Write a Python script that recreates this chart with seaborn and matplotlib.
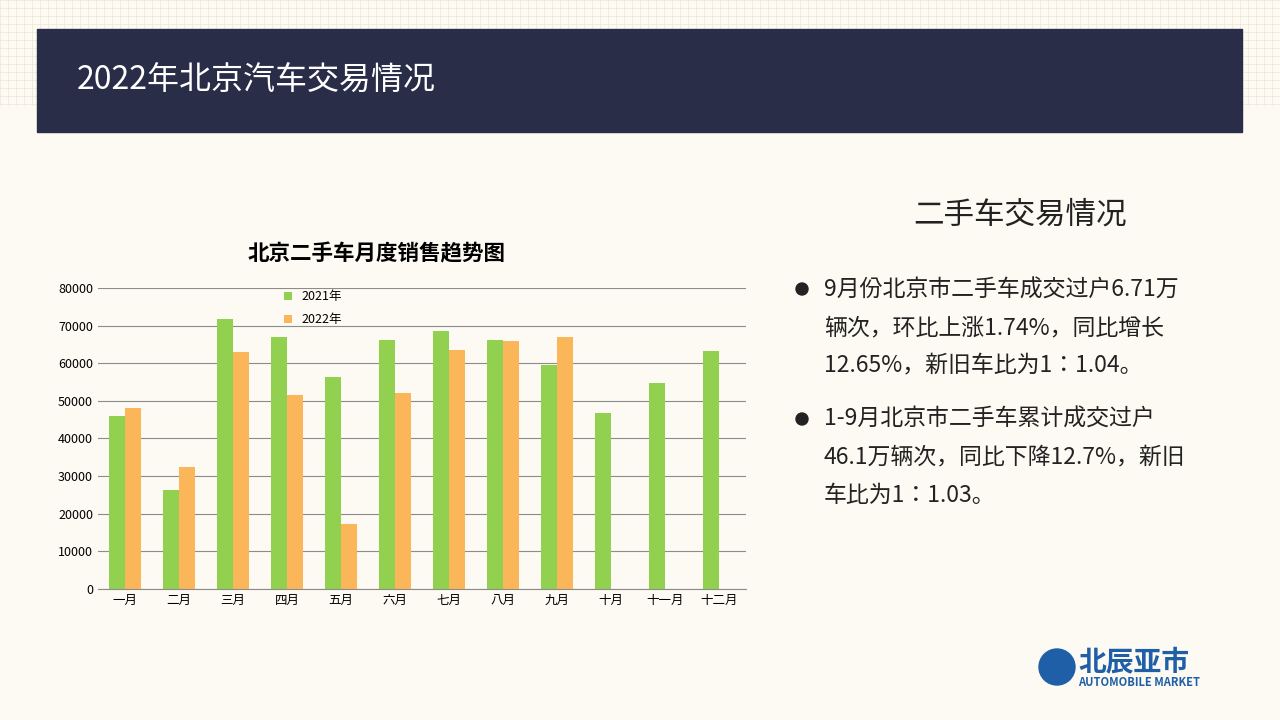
import matplotlib.pyplot as plt
import seaborn as sns
import pandas as pd
from matplotlib.patches import Rectangle, Circle

plt.rcParams['font.family'] = ['Noto Sans CJK JP', 'Noto Sans CJK SC', 'Noto Sans CJK TC',
                               'Noto Sans CJK KR', 'DejaVu Sans']

months = ['一月', '二月', '三月', '四月', '五月', '六月', '七月', '八月', '九月', '十月', '十一月', '十二月']
sales_2021 = [46000, 26300, 71800, 67000, 56400, 66200, 68600, 66200, 59600, 46800, 54800, 63300]
sales_2022 = [48100, 32400, 63000, 51600, 17300, 52100, 63600, 66000, 67000, None, None, None]
years = ['2021年', '2022年']

df = pd.DataFrame({'month': months * 2,
                   'sales': sales_2021 + sales_2022,
                   'year': [years[0]] * 12 + [years[1]] * 12})

bg = '#fcfaf2'
fig = plt.figure(figsize=(12.8, 7.2), dpi=100, facecolor=bg)

# faint grid pattern in top corners
deco = fig.add_axes([0, 0, 1, 1], zorder=0)
deco.set_xlim(0, 1280)
deco.set_ylim(720, 0)
deco.axis('off')
for x in range(0, 1281, 8):
    deco.plot([x, x], [0, 105], color='#ece8d8', lw=0.5)
for y in range(0, 106, 8):
    deco.plot([0, 1280], [y, y], color='#ece8d8', lw=0.5)
deco.add_patch(Rectangle((0, 105), 1280, 615, color=bg, zorder=1))
deco.add_patch(Rectangle((37, 29), 1205, 103, color='#292d48', zorder=2))
deco.text(77, 81, '2022年北京汽车交易情况', color='white', fontsize=23, va='center', zorder=3)
deco.text(1020, 215, '二手车交易情况', fontsize=22, ha='center', va='center', color='#222222')
lines1 = ['9月份北京市二手车成交过户6.71万', '辆次，环比上涨1.74%，同比增长', '12.65%，新旧车比为1：1.04。']
lines2 = ['1-9月北京市二手车累计成交过户', '46.1万辆次，同比下降12.7%，新旧', '车比为1：1.03。']
deco.add_patch(Circle((802, 289), 6, color='#222222'))
deco.add_patch(Circle((802, 419), 6, color='#222222'))
for i, t in enumerate(lines1):
    deco.text(824, 290 + i * 38, t, fontsize=16.5, va='center', color='#222222')
for i, t in enumerate(lines2):
    deco.text(824, 419 + i * 38, t, fontsize=16.5, va='center', color='#222222')
# logo
deco.add_patch(Circle((1057, 667), 18, color='#1f5fa8'))
deco.text(1078, 662, '北辰亚市', fontsize=20, fontweight='bold', color='#1f5fa8', va='center')
deco.text(1078, 682, 'AUTOMOBILE MARKET', fontsize=8, fontweight='bold', color='#1f5fa8', va='center')

ax = fig.add_axes([98 / 1280, 1 - 589 / 720, 648 / 1280, 301 / 720], zorder=2)
ax.set_facecolor(bg)
sns.barplot(data=df, x='month', y='sales', hue='year', ax=ax,
            palette=['#92d050', '#fbb65a'], width=0.58, saturation=1)
ax.set_ylim(0, 80000)
ax.set_yticks(range(0, 80001, 10000))
ax.yaxis.grid(True, color='#8c8c8c', lw=0.8)
ax.set_axisbelow(True)
ax.set_xlabel('')
ax.set_ylabel('')
ax.tick_params(labelsize=9, length=0)
for s in ['top', 'right', 'left']:
    ax.spines[s].set_visible(False)
ax.spines['bottom'].set_color('#8c8c8c')
ax.set_xlim(-0.5, 11.5)
ax.set_title('北京二手车月度销售趋势图', fontsize=15.5, fontweight='bold', pad=20, x=0.43)
ax.legend(loc='upper left', bbox_to_anchor=(0.27, 1.03), frameon=False, fontsize=9,
          handlelength=0.6, handleheight=0.6, labelspacing=0.8)

fig.savefig('out.png', dpi=100, facecolor=bg)
